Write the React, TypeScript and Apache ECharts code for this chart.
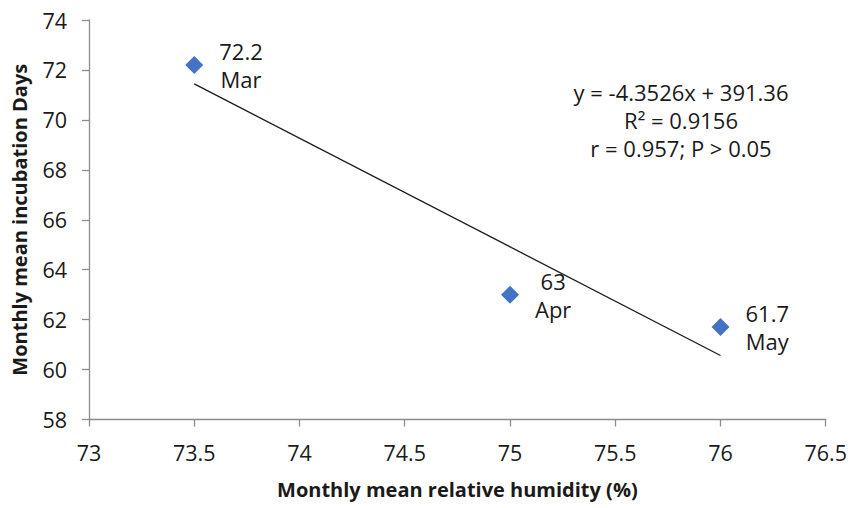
import React, { useEffect, useRef } from "react";
import * as echarts from "echarts";

const months = ["Mar", "Apr", "May"];
const humidity = [73.5, 75, 76];
const incubationDays = [72.2, 63, 61.7];
const slope = -4.3526;
const intercept = 391.36;
const equationLines = ["y = -4.3526x + 391.36", "R² = 0.9156", "r = 0.957; P > 0.05"];

const FONT = "Open Sans";
const TEXT = "#1a1a1a";

export default function App() {
  const ref = useRef<HTMLDivElement>(null);
  useEffect(() => {
    if (!ref.current) return;
    const chart = echarts.init(ref.current, undefined, { renderer: "svg" });
    const xMin = Math.min(...humidity);
    const xMax = Math.max(...humidity);
    const trend = [
      [xMin, slope * xMin + intercept],
      [xMax, slope * xMax + intercept],
    ];
    chart.setOption({
      animation: false,
      backgroundColor: "#ffffff",
      textStyle: { fontFamily: FONT },
      grid: { left: 89, right: 22, top: 20, bottom: 88.5, containLabel: false },
      xAxis: {
        type: "value",
        min: 73,
        max: 76.5,
        interval: 0.5,
        name: "Monthly mean relative humidity (%)",
        nameLocation: "middle",
        nameGap: 60,
        nameTextStyle: { fontFamily: FONT, fontSize: 20, fontWeight: "bold", color: TEXT },
        axisLine: { show: true, lineStyle: { color: "#8c8c8c", width: 1.3 } },
        axisTick: { show: true, length: 7, lineStyle: { color: "#8c8c8c", width: 1.3 } },
        axisLabel: { margin: 22, fontSize: 21.5, color: TEXT, fontFamily: FONT },
        splitLine: { show: false },
      },
      yAxis: {
        type: "value",
        min: 58,
        max: 74,
        interval: 2,
        name: "Monthly mean incubation Days",
        nameLocation: "middle",
        nameGap: 60,
        nameRotate: 90,
        nameTextStyle: { fontFamily: FONT, fontSize: 20, fontWeight: "bold", color: TEXT },
        axisLine: { show: true, lineStyle: { color: "#8c8c8c", width: 1.3 } },
        axisTick: { show: true, length: 7, lineStyle: { color: "#8c8c8c", width: 1.3 } },
        axisLabel: { margin: 22, fontSize: 21.5, color: TEXT, fontFamily: FONT },
        splitLine: { show: false },
      },
      series: [
        {
          type: "line",
          data: trend,
          symbol: "none",
          lineStyle: { color: "#1a1a1a", width: 1.3 },
          z: 1,
        },
        {
          type: "scatter",
          symbol: "diamond",
          symbolSize: 18,
          itemStyle: { color: "#4472C4", opacity: 1 },
          data: humidity.map((x, i) => ({ value: [x, incubationDays[i]], name: months[i] })),
          label: {
            show: true,
            position: "right",
            distance: 16,
            color: TEXT,
            fontFamily: FONT,
            fontSize: 22,
            formatter: (p: any) => `{a|${p.value[1]}}\n{a|${p.name}}`,
            rich: {
              a: { fontFamily: FONT, fontSize: 22, color: TEXT, align: "center", lineHeight: 28 },
            },
          },
          z: 2,
        },
      ],
      graphic: equationLines.map((t, i) => ({
        type: "text",
        x: 681,
        y: 92 + i * 28,
        style: {
          text: t,
          fontFamily: FONT,
          fontSize: 22,
          fill: TEXT,
          textAlign: "center",
          textVerticalAlign: "middle",
        },
      })),
    });
    return () => chart.dispose();
  }, []);
  return <div ref={ref} style={{ width: 850, height: 508, position: "absolute", left: 0, top: 0 }} />;
}
